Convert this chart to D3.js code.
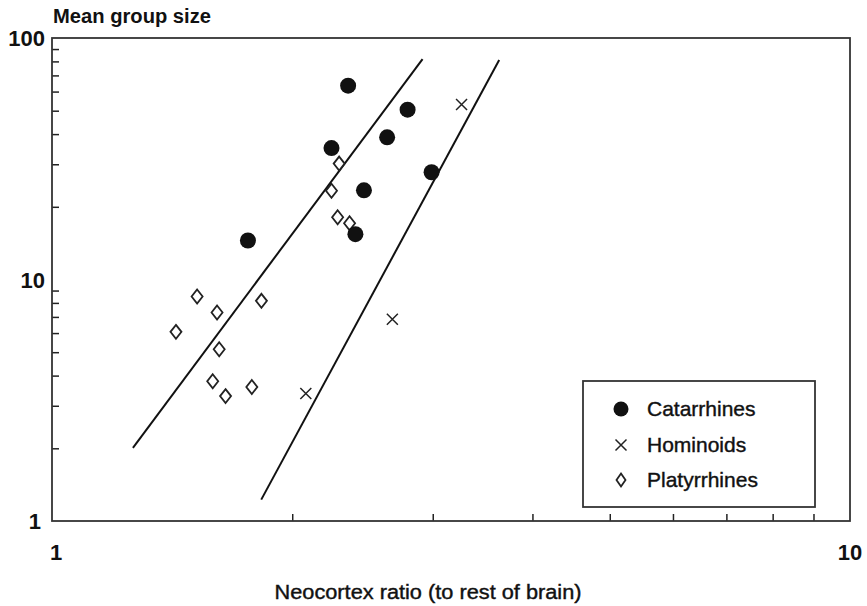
<!DOCTYPE html>
<html><head><meta charset="utf-8">
<script src="https://cdn.jsdelivr.net/npm/d3@7"></script>
<style>
html,body{margin:0;padding:0;background:#fff;}
svg{display:block;font-family:"Liberation Sans",Arial,Helvetica,sans-serif;}
</style></head>
<body>
<svg id="chart" width="867" height="606"></svg>
<script>
// ---- data (neocortex ratio, mean group size) ----
const catarrhines = [
  [2.35, 63.5], [2.79, 50.5], [2.63, 38.8], [2.24, 35.0],
  [2.46, 23.4], [2.99, 27.8], [2.40, 15.4], [1.76, 14.5]
];
const hominoids = [
  [3.26, 53.0], [2.67, 6.85], [2.08, 3.37]
];
const platyrrhines = [
  [2.29, 30.2], [2.24, 23.3], [2.28, 18.1], [2.36, 17.1],
  [1.52, 8.5], [1.61, 7.3], [1.43, 6.07], [1.83, 8.16],
  [1.62, 5.14], [1.59, 3.79], [1.65, 3.29], [1.78, 3.59]
];
const fitLines = [
  [[1.263, 2.01], [2.913, 81.8]],
  [[1.829, 1.226], [3.634, 81.1]]
];
const xTickLabels = [1, 10];
const yTickLabels = [1, 10, 100];
const legendItems = ["Catarrhines", "Hominoids", "Platyrrhines"];
const xTitle = "Neocortex ratio (to rest of brain)";
const yTitle = "Mean group size";

// ---- layout ----
const L = 52, R = 850, T = 38, B = 521;
const svg = d3.select("#chart");
const x = d3.scaleLog().domain([1, 10]).range([L, R]);
const y = d3.scaleLog().domain([1, 100]).range([B, T]);
const ink = "#111";

// minor ticks
const minor = [];
for (let d = 1; d < 100; d *= 10) for (let k = 2; k <= 9; k++) minor.push(d * k);
const xMinor = minor.filter(v => v < 10);

const xAxis = d3.axisBottom(x).tickValues(xMinor).tickSize(-7).tickFormat("");
const yAxis = d3.axisLeft(y).tickValues(minor).tickSize(-7).tickFormat("");

const gx = svg.append("g").attr("transform", `translate(0,${B})`).call(xAxis);
const gy = svg.append("g").attr("transform", `translate(${L},0)`).call(yAxis);
[gx, gy].forEach(g => {
  g.select(".domain").remove();
  g.selectAll(".tick line").attr("stroke", "#222").attr("stroke-width", 1.5);
});

// frame
svg.append("rect").attr("x", L).attr("y", T).attr("width", R - L).attr("height", B - T)
  .attr("fill", "none").attr("stroke", "#333").attr("stroke-width", 1.8);

// tick labels
svg.append("g").selectAll("text").data(xTickLabels).join("text")
  .attr("x", d => x(d) + (d === 1 ? 4 : 0)).attr("y", 560)
  .attr("text-anchor", "middle").attr("font-size", 22).attr("font-weight", "bold")
  .attr("fill", ink).text(d => d);
svg.append("g").selectAll("text").data(yTickLabels).join("text")
  .attr("x", d => d === 1 ? 41 : 45).attr("y", d => y(d) + 8)
  .attr("text-anchor", "end").attr("font-size", 22).attr("font-weight", "bold")
  .attr("fill", ink).text(d => d);

// titles
svg.append("text").attr("x", 53).attr("y", 23).attr("font-size", 20).attr("font-weight", "bold")
  .attr("fill", ink).attr("textLength", 158).attr("lengthAdjust", "spacingAndGlyphs").text(yTitle);
svg.append("text").attr("x", 428).attr("y", 599).attr("text-anchor", "middle")
  .attr("font-size", 20).attr("fill", ink).attr("stroke", ink).attr("stroke-width", 0.4)
  .attr("textLength", 307).attr("lengthAdjust", "spacingAndGlyphs")
  .text(xTitle);

// fit lines
const line = d3.line().x(d => x(d[0])).y(d => y(d[1]));
svg.append("g").selectAll("path").data(fitLines).join("path")
  .attr("d", line).attr("fill", "none").attr("stroke", ink).attr("stroke-width", 2);

// markers
const diamond = (w, h) => `M0,${-h}L${w},0L0,${h}L${-w},0Z`;
const crossPath = s => `M${-s},${-s}L${s},${s}M${-s},${s}L${s},${-s}`;

svg.append("g").selectAll("path").data(platyrrhines).join("path")
  .attr("transform", d => `translate(${x(d[0])},${y(d[1])})`)
  .attr("d", diamond(5.5, 7)).attr("fill", "#fff").attr("stroke", "#222").attr("stroke-width", 1.8);

svg.append("g").selectAll("circle").data(catarrhines).join("circle")
  .attr("cx", d => x(d[0])).attr("cy", d => y(d[1])).attr("r", 8).attr("fill", ink);

svg.append("g").selectAll("path").data(hominoids).join("path")
  .attr("transform", d => `translate(${x(d[0])},${y(d[1])})`)
  .attr("d", crossPath(5.5)).attr("fill", "none").attr("stroke", "#222").attr("stroke-width", 1.5);

// legend
const lg = svg.append("g");
lg.append("rect").attr("x", 583).attr("y", 381).attr("width", 232).attr("height", 126)
  .attr("fill", "#fff").attr("stroke", "#333").attr("stroke-width", 1.8);
const ly = [409, 445, 480];
legendItems.forEach((name, i) => {
  const cy = ly[i];
  if (i === 0) lg.append("circle").attr("cx", 621).attr("cy", cy).attr("r", 7.5).attr("fill", ink);
  if (i === 1) lg.append("path").attr("transform", `translate(621,${cy})`).attr("d", crossPath(5.5))
    .attr("stroke", "#222").attr("stroke-width", 1.5).attr("fill", "none");
  if (i === 2) lg.append("path").attr("transform", `translate(621,${cy})`).attr("d", diamond(4.5, 6.5))
    .attr("stroke", "#222").attr("stroke-width", 1.8).attr("fill", "#fff");
  lg.append("text").attr("x", 647).attr("y", cy + 7).attr("font-size", 21).attr("fill", ink)
    .attr("stroke", ink).attr("stroke-width", 0.4).text(name);
});
</script>
</body></html>
